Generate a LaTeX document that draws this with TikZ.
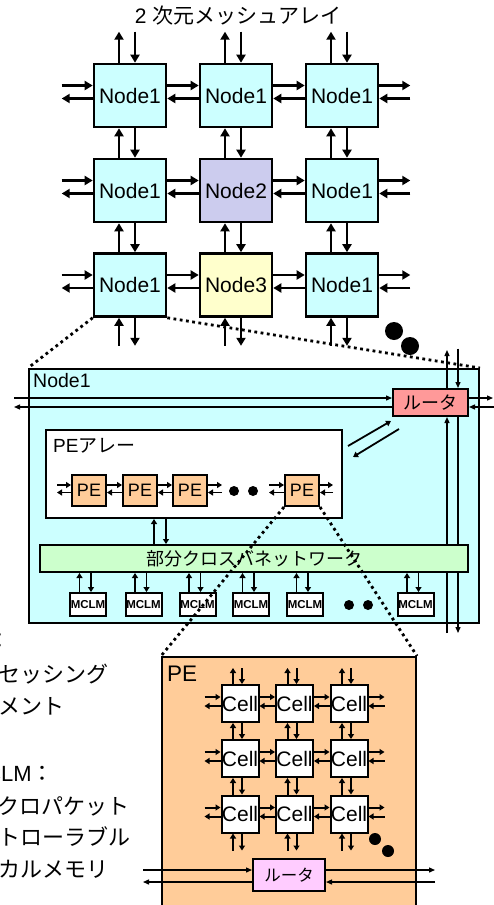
\documentclass[tikz,border=0pt]{standalone}
\usepackage{fontspec}
\setmainfont{Liberation Sans}
\newfontfamily\jp{Noto Sans CJK JP}
\usetikzlibrary{arrows.meta,calc}
\newcommand{\fsz}[1]{\fontsize{#1}{#1}\selectfont}
\definecolor{cyanfill}{HTML}{CCFFFF}
\definecolor{lavfill}{HTML}{CCCCEE}
\definecolor{yelfill}{HTML}{FFFFCC}
\definecolor{routerred}{HTML}{FF9999}
\definecolor{peorange}{HTML}{FFCC99}
\definecolor{xbargreen}{HTML}{CCFFCC}
\definecolor{routerpink}{HTML}{FFCCFF}
\tikzset{
  mesh/.style={draw, line width=2.6pt, minimum width=72pt, minimum height=63pt, inner sep=0pt, font=\fsz{21pt}},
  marrow/.style={line width=2.6pt, -{Triangle[length=8pt,width=9pt]}},
  blk/.style={draw, line width=2pt, inner sep=0pt},
  wire/.style={line width=1.3pt, -{Triangle[length=6pt,width=5pt]}},
  sarrow/.style={line width=1.8pt, -{Triangle[length=5pt,width=6pt]}},
  carrow/.style={line width=2pt, -{Triangle[length=5pt,width=6pt]}},
  zoomline/.style={line width=2.8pt, dash pattern=on 2.8pt off 3.5pt},
  cell/.style={blk, fill=white, minimum width=37pt, minimum height=37pt, font=\fsz{21pt}},
}
\begin{document}
\begin{tikzpicture}[x=1pt,y=-1pt]
\useasboundingbox (0,0) rectangle (494,905);

% Title
\node[font=\fsz{21pt}] (title) at (238,16) {2 {\jp 次元メッシュアレイ}};

% 2D mesh array
\node[mesh, fill=cyanfill] (n11) at (130,95.5) {Node1};
\node[mesh, fill=cyanfill] (n12) at (236,95.5) {Node1};
\node[mesh, fill=cyanfill] (n13) at (342,95.5) {Node1};
\node[mesh, fill=cyanfill] (n21) at (130,190.5) {Node1};
\node[mesh, fill=lavfill] (n22) at (236,190.5) {Node2};
\node[mesh, fill=cyanfill] (n23) at (342,190.5) {Node1};
\node[mesh, fill=cyanfill] (n31) at (130,285) {Node1};
\node[mesh, fill=yelfill] (n32) at (236,285) {Node3};
\node[mesh, fill=cyanfill] (n33) at (342,285) {Node1};

% Mesh links, horizontal
\foreach \r in {1,2,3} {
  \draw[marrow] ($(n\r1.west)+(-31,-10)$) -- ($(n\r1.west)+(0,-10)$);
  \draw[marrow] ($(n\r1.west)+(0,3)$) -- ($(n\r1.west)+(-31,3)$);
  \draw[marrow] ($(n\r3.east)+(0,-10)$) -- ($(n\r3.east)+(31,-10)$);
  \draw[marrow] ($(n\r3.east)+(31,3)$) -- ($(n\r3.east)+(0,3)$);
  \foreach \c/\d in {1/2,2/3} {
    \draw[marrow] ($(n\r\c.east)+(0,-10)$) -- ($(n\r\d.west)+(0,-10)$);
    \draw[marrow] ($(n\r\d.west)+(0,3)$) -- ($(n\r\c.east)+(0,3)$);
  }
}
% Mesh links, vertical
\foreach \c in {1,2,3} {
  \draw[marrow] ($(n1\c.north)+(-11,0)$) -- ($(n1\c.north)+(-11,-31)$);
  \draw[marrow] ($(n1\c.north)+(5,-31)$) -- ($(n1\c.north)+(5,0)$);
  \draw[marrow] ($(n3\c.south)+(-11,28)$) -- ($(n3\c.south)+(-11,0)$);
  \draw[marrow] ($(n3\c.south)+(5,0)$) -- ($(n3\c.south)+(5,28)$);
  \foreach \r/\s in {1/2,2/3} {
    \draw[marrow] ($(n\s\c.north)+(-11,0)$) -- ($(n\r\c.south)+(-11,0)$);
    \draw[marrow] ($(n\r\c.south)+(5,0)$) -- ($(n\s\c.north)+(5,0)$);
  }
}
\fill (394,331) circle (9);
\fill (410,346) circle (9);

% Node1 detail
\node[blk, fill=cyanfill, minimum width=450pt, minimum height=254pt] (nodebox) at (254,496) {};
\node[anchor=north west, inner sep=0pt, font=\fsz{19.5pt}] (nodelbl) at (33,373) {Node1};
\draw[zoomline] (n31.south west) -- (nodebox.north west);
\draw[zoomline] (n31.south east) -- (nodebox.north east);

% Router and its links
\coordinate (rt) at (430.5,402.5);
\draw[wire] ($(rt)+(16.5,-14.5)$) -- ($(rt)+(16.5,-52.5)$);
\draw[wire] ($(rt)+(27.5,-54)$) -- ($(rt)+(27.5,-14.5)$);
\draw[wire] ($(rt)+(16.5,230.5)$) -- ($(rt)+(16.5,14.5)$);
\draw[wire] ($(rt)+(27.5,14.5)$) -- ($(rt)+(27.5,230.5)$);
\node[blk, fill=routerred, minimum width=75pt, minimum height=27pt, font=\fsz{18pt}] (router) at (rt) {\jp ルータ};
\draw[wire] ($(router.west)+(-378,-4.5)$) -- ($(router.west)+(0,-4.5)$);
\draw[wire] ($(router.west)+(0,4.5)$) -- ($(router.west)+(-378,4.5)$);
\draw[wire] ($(router.east)+(0,-4.5)$) -- ($(router.east)+(24,-4.5)$);
\draw[wire] ($(router.east)+(26,4.5)$) -- ($(router.east)+(0,4.5)$);

% PE array
\node[blk, fill=white, minimum width=296pt, minimum height=88pt] (pearray) at (194,474) {};
\node[anchor=west, inner sep=0pt, font=\fsz{19pt}] (pelbl) at (53,446) {PE{\jp アレー}};
\draw[sarrow] ($(pearray.north east)+(5,17)$) -- ($(router.south west)+(-1,4)$);
\draw[sarrow] ($(router.south west)+(7,12)$) -- ($(pearray.north east)+(10,28)$);
\foreach \i/\px in {1/89,2/140,3/190,4/302}
  \node[blk, fill=peorange, minimum width=34pt, minimum height=31pt, font=\fsz{18pt}] (pe\i) at (\px,490.5) {PE};
\draw[sarrow] ($(pe1.west)+(-14,-5.5)$) -- ($(pe1.west)+(0,-5.5)$);
\draw[sarrow] ($(pe1.west)+(0,2)$) -- ($(pe1.west)+(-14,2)$);
\foreach \a/\b in {1/2,2/3} {
  \draw[sarrow] ($(pe\a.east)+(0,-5.5)$) -- ($(pe\b.west)+(0,-5.5)$);
  \draw[sarrow] ($(pe\b.west)+(0,2)$) -- ($(pe\a.east)+(0,2)$);
}
\draw[sarrow] ($(pe3.east)+(0,-5.5)$) -- ($(pe3.east)+(14,-5.5)$);
\draw[sarrow] ($(pe3.east)+(14,2)$) -- ($(pe3.east)+(0,2)$);
\draw[sarrow] ($(pe4.west)+(-15,-5.5)$) -- ($(pe4.west)+(0,-5.5)$);
\draw[sarrow] ($(pe4.west)+(0,2)$) -- ($(pe4.west)+(-15,2)$);
\draw[sarrow] ($(pe4.east)+(0,-5.5)$) -- ($(pe4.east)+(13,-5.5)$);
\draw[sarrow] ($(pe4.east)+(13,2)$) -- ($(pe4.east)+(0,2)$);
\fill (234,491) circle (5);
\fill (253,491) circle (5);

% Partial crossbar network
\node[blk, fill=xbargreen, minimum width=428pt, minimum height=27pt, font=\fsz{18pt}] (xbar) at (254,558.5) {\jp 部分クロスバネットワーク};
\draw[sarrow] ($(xbar.north)+(-100,0)$) -- ($(xbar.north)+(-100,-25)$);
\draw[sarrow] ($(pearray.south)+(-28,0)$) -- ($(pearray.south)+(-28,25)$);

% MCLMs
\foreach \i/\mx in {1/88,2/143.5,3/197.5,4/251,5/305,6/415.5} {
  \node[blk, fill=white, minimum width=36pt, minimum height=23pt, font=\fsz{11.5pt}\bfseries] (m\i) at (\mx,604.5) {MCLM};
  \draw[sarrow] ($(m\i.north)+(-8.5,0)$) -- ($(m\i.north)+(-8.5,-19)$);
  \draw[sarrow] ($(m\i.north)+(3,-19)$) -- ($(m\i.north)+(3,0)$);
}
\fill (349,605) circle (5);
\fill (368,605) circle (5);

% PE detail
\node[blk, fill=peorange, minimum width=254pt, minimum height=258pt] (pebox) at (289,786) {};
\node[anchor=west, inner sep=0pt, font=\fsz{22.5pt}] (pebxlbl) at (167,674) {PE};
\draw[zoomline] (pe4.south west) -- (pebox.north west);
\draw[zoomline] (pe4.south east) -- (pebox.north east);

\node[cell] (c11) at (240,703.5) {Cell};
\node[cell] (c12) at (294.5,703.5) {Cell};
\node[cell] (c13) at (349,703.5) {Cell};
\node[cell] (c21) at (240,758.5) {Cell};
\node[cell] (c22) at (294.5,758.5) {Cell};
\node[cell] (c23) at (349,758.5) {Cell};
\node[cell] (c31) at (240,814) {Cell};
\node[cell] (c32) at (294.5,814) {Cell};
\node[cell] (c33) at (349,814) {Cell};
\foreach \r in {1,2,3} {
  \draw[carrow] ($(c\r1.west)+(-16,-6.5)$) -- ($(c\r1.west)+(0,-6.5)$);
  \draw[carrow] ($(c\r1.west)+(0,2.5)$) -- ($(c\r1.west)+(-16,2.5)$);
  \draw[carrow] ($(c\r3.east)+(0,-6.5)$) -- ($(c\r3.east)+(16,-6.5)$);
  \draw[carrow] ($(c\r3.east)+(16,2.5)$) -- ($(c\r3.east)+(0,2.5)$);
  \foreach \c/\d in {1/2,2/3} {
    \draw[carrow] ($(c\r\c.east)+(0,-6.5)$) -- ($(c\r\d.west)+(0,-6.5)$);
    \draw[carrow] ($(c\r\d.west)+(0,2.5)$) -- ($(c\r\c.east)+(0,2.5)$);
  }
}
\foreach \c in {1,2,3} {
  \draw[carrow] ($(c1\c.north)+(-7,0)$) -- ($(c1\c.north)+(-7,-16)$);
  \draw[carrow] ($(c1\c.north)+(2,-16)$) -- ($(c1\c.north)+(2,0)$);
  \draw[carrow] ($(c3\c.south)+(-7,17)$) -- ($(c3\c.south)+(-7,0)$);
  \draw[carrow] ($(c3\c.south)+(2,0)$) -- ($(c3\c.south)+(2,17)$);
  \foreach \r/\s in {1/2,2/3} {
    \draw[carrow] ($(c\s\c.north)+(-7,0)$) -- ($(c\r\c.south)+(-7,0)$);
    \draw[carrow] ($(c\r\c.south)+(2,0)$) -- ($(c\s\c.north)+(2,0)$);
  }
}
\fill (375,839) circle (6);
\fill (388,851) circle (6);

% PE router
\node[blk, fill=routerpink, minimum width=72pt, minimum height=32pt, font=\fsz{16.5pt}] (perouter) at (289,875) {\jp ルータ};
\draw[wire] ($(perouter.west)+(-109,-5)$) -- ($(perouter.west)+(0,-5)$);
\draw[wire] ($(perouter.west)+(0,7)$) -- ($(perouter.west)+(-109,7)$);
\draw[wire] ($(perouter.east)+(0,-5)$) -- ($(perouter.east)+(109,-5)$);
\draw[wire] ($(perouter.east)+(109,7)$) -- ($(perouter.east)+(0,7)$);

% Legend
\node[anchor=east, inner sep=0pt, font=\fsz{22pt}] (lgpe) at (11,641) {PE{\jp ：}};
\node[anchor=west, inner sep=0pt, font=\fsz{22pt}\jp] (lgpe1) at (-46,674) {プロセッシング};
\node[anchor=west, inner sep=0pt, font=\fsz{22pt}\jp] (lgpe2) at (-46,706) {エレメント};
\node[anchor=east, inner sep=0pt, font=\fsz{22pt}] (lgmc) at (54,774) {MCLM{\jp ：}};
\node[anchor=west, inner sep=0pt, font=\fsz{22pt}\jp] (lgmc1) at (-46,806) {マイクロパケット};
\node[anchor=west, inner sep=0pt, font=\fsz{22pt}\jp] (lgmc2) at (-46,837) {コントローラブル};
\node[anchor=west, inner sep=0pt, font=\fsz{22pt}\jp] (lgmc3) at (-46,869) {ローカルメモリ};
\end{tikzpicture}
\end{document}
